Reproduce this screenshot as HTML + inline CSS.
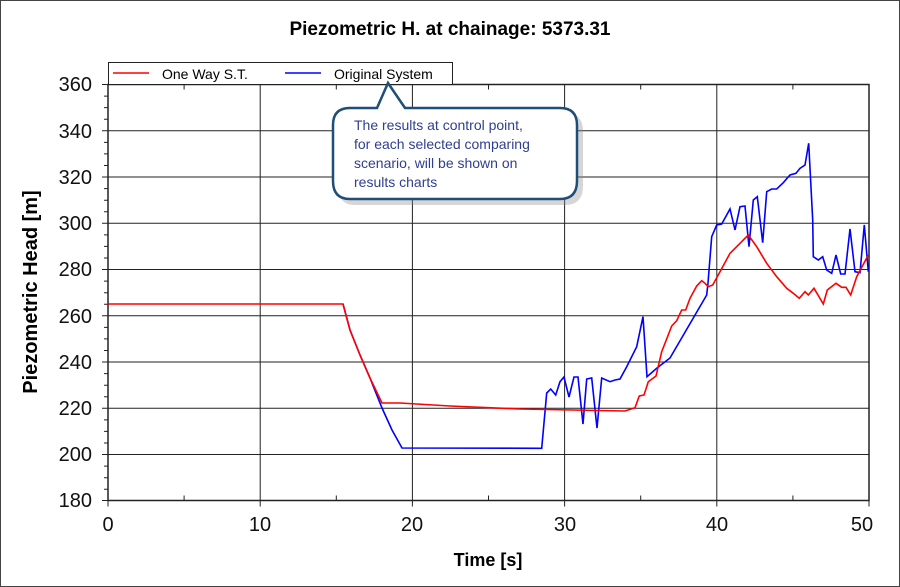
<!DOCTYPE html>
<html><head><meta charset="utf-8"><style>
html,body{margin:0;padding:0;background:#fff}
svg{display:block;font-family:"Liberation Sans",Arial,sans-serif}
</style></head><body>
<svg width="900" height="587" viewBox="0 0 900 587">
<rect x="0.5" y="0.5" width="899" height="586" fill="#fff" stroke="#444"/>
<text x="450" y="35" text-anchor="middle" font-size="19" font-weight="bold">Piezometric H. at chainage: 5373.31</text>
<g stroke="#222" stroke-width="1">
<line x1="108" y1="84.5" x2="869" y2="84.5"/>
<line x1="108" y1="130.8" x2="869" y2="130.8"/>
<line x1="108" y1="177" x2="869" y2="177"/>
<line x1="108" y1="223.3" x2="869" y2="223.3"/>
<line x1="108" y1="269.5" x2="869" y2="269.5"/>
<line x1="108" y1="315.8" x2="869" y2="315.8"/>
<line x1="108" y1="362" x2="869" y2="362"/>
<line x1="108" y1="408.3" x2="869" y2="408.3"/>
<line x1="108" y1="454.5" x2="869" y2="454.5"/>
<line x1="260.2" y1="84.5" x2="260.2" y2="500.5"/>
<line x1="412.4" y1="84.5" x2="412.4" y2="500.5"/>
<line x1="564.6" y1="84.5" x2="564.6" y2="500.5"/>
<line x1="716.8" y1="84.5" x2="716.8" y2="500.5"/>
</g>
<rect x="108" y="84.5" width="761" height="416" fill="none" stroke="#222" stroke-width="1.5"/>
<g stroke="#222" stroke-width="1">
<path d="M102 84.5h6M102 130.8h6M102 177h6M102 223.3h6M102 269.5h6M102 315.8h6M102 362h6M102 408.3h6M102 454.5h6M102 500.5h6"/>
<path d="M104 96.1h4M104 107.6h4M104 119.2h4M104 142.4h4M104 153.9h4M104 165.5h4M104 188.6h4M104 200.2h4M104 211.7h4M104 234.9h4M104 246.4h4M104 258h4M104 281.1h4M104 292.7h4M104 304.2h4M104 327.4h4M104 338.9h4M104 350.5h4M104 373.6h4M104 385.2h4M104 396.7h4M104 419.9h4M104 431.4h4M104 443h4M104 466.1h4M104 477.7h4M104 489.2h4"/>
<path d="M108 500.5v6M260.2 500.5v6M412.4 500.5v6M564.6 500.5v6M716.8 500.5v6M869 500.5v6"/>
<path d="M184.1 84.5v5M336.3 84.5v5M488.5 84.5v5M640.7 84.5v5M792.9 84.5v5M184.1 500.5v-5M336.3 500.5v-5M488.5 500.5v-5M640.7 500.5v-5M792.9 500.5v-5"/>
</g>
<g font-size="20" text-anchor="end" fill="#111">
<text x="92" y="91">360</text><text x="92" y="138">340</text><text x="92" y="184">320</text><text x="92" y="230">300</text><text x="92" y="276">280</text><text x="92" y="323">260</text><text x="92" y="369">240</text><text x="92" y="415">220</text><text x="92" y="461">200</text><text x="92" y="507">180</text>
</g>
<g font-size="20" text-anchor="middle" fill="#111">
<text x="108" y="531">0</text><text x="260" y="531">10</text><text x="412" y="531">20</text><text x="565" y="531">30</text><text x="717" y="531">40</text><text x="862" y="531">50</text>
</g>
<text x="488" y="566" text-anchor="middle" font-size="18" font-weight="bold">Time [s]</text>
<text transform="translate(37,292) rotate(-90)" text-anchor="middle" font-size="20" font-weight="bold">Piezometric Head [m]</text>
<polyline fill="none" stroke="#0000ff" stroke-width="1.6" points="343,304 350,330 360,355 370,378 382,408 392,430 402,448 541.7,448.3 546.7,393 550.7,389 555.7,395 560,381.7 564,377 569,397 574,377 578,377 583,424 586.7,379 591.7,378 597,428 601.7,378 610,381.7 615,380 620,379 626.7,366.7 636.7,346.7 643,316.7 647,376.7 656.7,368.3 670,358 706.7,295 708,283 711.7,236.7 716.7,225 721.7,224 730,209 735,230 740,206.7 745,206 749,246.7 753.3,200 757.3,196.7 762.7,242.7 766.7,191.7 771.7,189 776.7,189 783.3,182.7 790,175 796,173.3 800,168.3 805,165 808.7,143.3 812.7,220 813.3,256.7 818.3,260 822.7,256.7 826.7,270 831.7,273.3 836,255 840.7,274 845,274 850,229 855,271.7 860,272.7 864.3,225 868.3,271.7"/>
<polyline fill="none" stroke="#ff0000" stroke-width="1.6" points="108,304 343,304 350,330 360,355 370,378 382,403 400,403 450,406 520,409 625,411 635,407.7 639.3,396 644,395 648.3,381.7 656,376 661.7,351.7 671.7,326 676.7,320.7 681.7,310 685.7,310 690,298.3 696.7,286 701.7,280.7 705,283.3 708.3,286.7 712.7,285 720,271.7 730,253.3 740,243.3 748.3,235 756.7,246.7 766.7,263.3 776.7,276.7 786.7,288.3 793.3,293.3 799.3,298.3 805,291.7 808.3,295 814,288.3 823.3,304 827.3,290 836,283.3 841.7,287.3 846,287.3 850.7,295 856.7,276.7 868.3,255"/>
<rect x="108.5" y="62.5" width="344" height="22" fill="#fff" stroke="#222"/>
<line x1="113" y1="73" x2="149" y2="73" stroke="#ff0000" stroke-width="1.6"/>
<text x="162" y="79" font-size="14">One Way S.T.</text>
<line x1="285" y1="73" x2="321" y2="73" stroke="#0000ff" stroke-width="1.6"/>
<text x="334" y="79" font-size="14">Original System</text>
<path d="M348 110 H379 L388 85 L408 110 H562 Q580 110 580 128 V183 Q580 202 562 202 H352 Q335 202 335 183 V128 Q335 110 352 110 Z" fill="#8a8a8a" opacity="0.35" transform="translate(3,3)"/>
<path d="M348 108 H377 L388 83 L405 108 H560 Q577 108 577 125 V181 Q577 199 560 199 H350 Q333 199 333 181 V125 Q333 108 350 108 Z" fill="#fff" stroke="#1f4e79" stroke-width="2.5"/>
<g font-size="14" fill="#2f3f90">
<text x="354" y="130">The results at control point,</text>
<text x="354" y="149">for each selected comparing</text>
<text x="354" y="168">scenario, will be shown on</text>
<text x="354" y="187">results charts</text>
</g>
</svg>
</body></html>
